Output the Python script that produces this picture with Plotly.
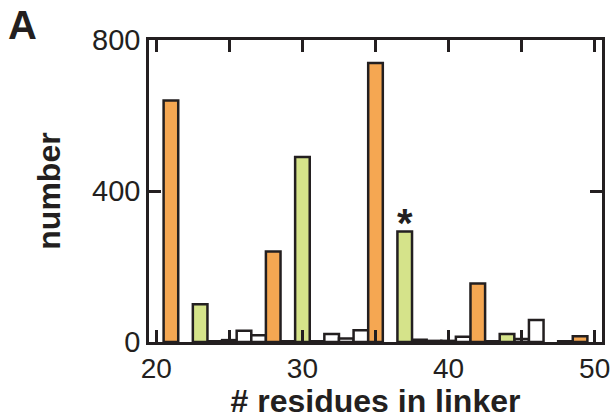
import plotly.graph_objects as go

# Data
orange_x = [21, 28, 35, 42, 49]
orange_y = [640, 240, 739, 155, 15]

green_x = [23, 30, 37, 44]
green_y = [100, 490, 293, 21]

white_x = [24, 25, 26, 27, 29, 31, 32, 33, 34, 38, 39, 40, 41, 43, 45, 46, 48]
white_y = [2, 5, 30, 18, 2, 2, 21, 9, 31, 6, 3, 3, 14, 2, 8, 58, 2]

x_tickvals = [20, 25, 30, 35, 40, 45, 50]
x_ticktext = ["20", "", "30", "", "40", "", "50"]
y_tickvals = [0, 400, 800]
y_ticktext = ["0", "400", "800"]

EDGE = "#231f20"
ORANGE = "#f5a752"
GREEN = "#d5e38a"
FONT = "Liberation Sans, Arial, Helvetica, sans-serif"

fig = go.Figure()
for xs, ys, col in [(white_x, white_y, "white"),
                    (green_x, green_y, GREEN),
                    (orange_x, orange_y, ORANGE)]:
    fig.add_trace(go.Bar(
        x=xs, y=ys, width=1,
        marker=dict(color=col, line=dict(color=EDGE, width=2.5)),
        showlegend=False,
    ))

fig.update_layout(
    width=613, height=419,
    margin=dict(l=149, r=11, t=40, b=77, autoexpand=False),
    plot_bgcolor="white", paper_bgcolor="white",
    barmode="overlay",
    font=dict(family=FONT, size=28, color=EDGE),
)

axis_common = dict(
    showline=True, mirror="ticks", linecolor=EDGE, linewidth=2.5,
    ticks="inside", ticklen=12, tickwidth=2.5, tickcolor=EDGE,
    showgrid=False, zeroline=False, automargin=False,
)

fig.update_xaxes(
    range=[19.5, 50.5],
    tickmode="array", tickvals=x_tickvals, ticktext=x_ticktext,
    tickfont=dict(family=FONT, size=28, color=EDGE),
    title=dict(text="<b># residues in linker</b>", standoff=8,
               font=dict(family=FONT, size=32, color=EDGE)),
    **axis_common,
)
fig.update_yaxes(
    range=[0, 800],
    tickmode="array", tickvals=y_tickvals, ticktext=y_ticktext,
    tickfont=dict(family=FONT, size=29, color=EDGE),
    title=dict(text="<b>number</b>", standoff=22,
               font=dict(family=FONT, size=32, color=EDGE)),
    **axis_common,
)

# Asterisk over bar at 37
fig.add_annotation(x=37, y=293, text="<b>*</b>", showarrow=False,
                   xref="x", yref="y", yanchor="bottom", yshift=-16,
                   font=dict(family=FONT, size=40, color=EDGE))

# Panel label
fig.add_annotation(x=-0.315, y=1.13, xref="paper", yref="paper",
                   text="<b>A</b>", showarrow=False,
                   xanchor="left", yanchor="top",
                   font=dict(family=FONT, size=40, color=EDGE))

fig.write_html("out.html", config={"displayModeBar": False},
               post_script="document.body.style.margin='0px';")
